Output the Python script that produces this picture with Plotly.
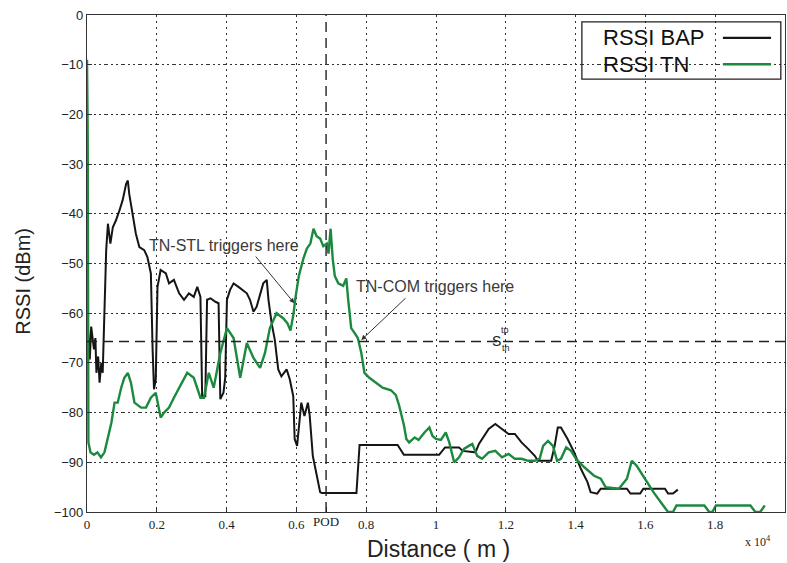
import plotly.graph_objects as go

# Distance in units of 1e4 m, RSSI in dBm
BAP_X = [0, 0.003, 0.008, 0.012, 0.02, 0.024, 0.027, 0.032, 0.036, 0.041, 0.045, 0.05, 0.055, 0.06,
         0.067, 0.074, 0.083, 0.093, 0.102, 0.112, 0.117, 0.121, 0.131, 0.14, 0.15, 0.164, 0.173,
         0.183, 0.188, 0.192, 0.197, 0.202, 0.211, 0.226, 0.235, 0.249, 0.264, 0.278, 0.292, 0.306,
         0.316, 0.325, 0.33, 0.339, 0.344, 0.354, 0.368, 0.377, 0.382, 0.391, 0.396, 0.401, 0.41,
         0.42, 0.434, 0.444, 0.458, 0.467, 0.477, 0.486, 0.496, 0.505, 0.515, 0.52, 0.529, 0.538,
         0.548, 0.557, 0.572, 0.581, 0.591, 0.595, 0.602, 0.614, 0.623, 0.633, 0.638, 0.647, 0.658,
         0.668, 0.673, 0.772, 0.781, 0.89, 0.908, 1.009, 1.026, 1.066, 1.076, 1.113, 1.123, 1.137,
         1.151, 1.17, 1.189, 1.208, 1.226, 1.245, 1.264, 1.283, 1.292, 1.33, 1.34, 1.349, 1.358,
         1.377, 1.396, 1.415, 1.434, 1.443, 1.462, 1.472, 1.547, 1.557, 1.585, 1.594, 1.656, 1.665,
         1.679, 1.693]
BAP_Y = [-64, -63.3, -69.3, -62.7, -67.3, -65, -72, -68.7, -74, -70, -72, -56.7, -47.3, -42,
         -46, -42.7, -41.3, -39.3, -37.3, -34, -33.3, -36, -40, -44, -46.7, -47.3, -48.7,
         -52, -67.3, -75.3, -73.3, -54.7, -51.3, -52, -54, -53.3, -56, -57.3, -56, -56.7,
         -54.7, -56.7, -76.7, -76.7, -57.3, -57, -57.7, -58, -77.3, -76, -73, -57.3, -55.3,
         -54, -54.7, -55.3, -56, -57.3, -59.7, -58.7, -56, -54, -53.3, -57.3, -62, -65.3,
         -71.3, -72.7, -71.3, -73.3, -76.7, -85.3, -86.7, -78, -80.7, -78, -80.5, -88.7, -92.5,
         -96, -96.2, -96.2, -86.5, -86.5, -88.5, -88.5, -87, -87, -87.7, -88, -86.3, -84.7,
         -83.3, -82.3, -83.3, -84.3, -84.3, -86, -87.3, -88.7, -89.7, -89.7, -86.7, -83, -83,
         -85.3, -88, -91.3, -94, -96, -96.3, -95.3, -95.3, -96.3, -96.3, -95.3, -95.3, -96.3,
         -96.3, -95.5]

TN_X = [0, 0.002, 0.004, 0.01, 0.02, 0.03, 0.04, 0.05, 0.06, 0.07, 0.079, 0.088, 0.098, 0.107,
        0.117, 0.126, 0.136, 0.155, 0.169, 0.183, 0.197, 0.211, 0.221, 0.235, 0.249, 0.264, 0.287,
        0.306, 0.325, 0.335, 0.349, 0.363, 0.382, 0.401, 0.42, 0.439, 0.458, 0.477, 0.496, 0.51,
        0.524, 0.543, 0.562, 0.574, 0.583, 0.592, 0.597, 0.607, 0.62, 0.63, 0.64, 0.649, 0.658,
        0.668, 0.677, 0.687, 0.692, 0.698, 0.704, 0.71, 0.72, 0.734, 0.743, 0.748, 0.757, 0.767,
        0.776, 0.786, 0.795, 0.809, 0.828, 0.847, 0.871, 0.885, 0.894, 0.908, 0.915, 0.923, 0.939,
        0.95, 0.967, 0.981, 0.99, 1.0, 1.014, 1.028, 1.038, 1.052, 1.066, 1.08, 1.094, 1.104,
        1.118, 1.132, 1.151, 1.17, 1.189, 1.208, 1.226, 1.245, 1.264, 1.283, 1.297, 1.307, 1.321,
        1.335, 1.347, 1.358, 1.373, 1.387, 1.401, 1.425, 1.453, 1.472, 1.486, 1.524, 1.547, 1.561,
        1.575, 1.599, 1.623, 1.651, 1.665, 1.679, 1.689, 1.769, 1.783, 1.792, 1.802, 1.901, 1.915,
        1.929, 1.942]
TN_Y = [-9, -24, -86, -88, -88.5, -88, -89, -88, -85, -82, -78, -78, -75, -73,
        -72, -74, -78, -79, -79, -77, -76, -81, -80, -79, -77, -75, -72,
        -73, -77, -77, -72, -75, -68, -63, -65, -73, -66, -69, -71, -68,
        -63, -60, -61, -62, -63.5, -60, -57, -52.5, -49, -47, -46, -43, -44.5,
        -45, -46.5, -46, -48, -43, -49, -52.5, -54, -54.5, -53, -57, -63, -64,
        -65, -68, -72, -73, -74, -75, -75.5, -76.5, -78.5, -82.5, -85.3, -86, -85,
        -85.5, -84, -83, -84.7, -85.3, -85.5, -84, -86, -90, -89, -87.3, -86.7, -86.3,
        -88.7, -89.3, -88, -87.7, -89, -88.3, -89.3, -89.3, -89.7, -89.7, -89.3, -86.7, -85.7,
        -86.7, -89.7, -89.3, -87, -87.7, -89.3, -91, -92.7, -93.3, -95, -95.3, -93.3, -89.7,
        -90.7, -93.3, -96, -98.7, -100, -100, -98.7, -98.7, -100, -100, -98.7, -98.7, -100,
        -100, -98.7]

X_TICKS = [0, 0.2, 0.4, 0.6, 0.8, 1, 1.2, 1.4, 1.6, 1.8, 2]
X_TICK_TEXT = ["0", "0.2", "0.4", "0.6", "0.8", "1", "1.2", "1.4", "1.6", "1.8", "2"]
Y_TICKS = [0, -10, -20, -30, -40, -50, -60, -70, -80, -90, -100]

POD_X = 0.685          # point of departure
THRESHOLD_DBM = -65.7  # S_th^tp

GREEN = "#1c8a3e"
BLACK = "#151515"
SANS = "Liberation Sans, Arial, sans-serif"
SERIF = "Liberation Serif, Times New Roman, serif"

fig = go.Figure()
fig.add_trace(go.Scatter(x=BAP_X, y=BAP_Y, mode="lines", name="RSSI BAP",
                         line=dict(color=BLACK, width=2), showlegend=False))
fig.add_trace(go.Scatter(x=TN_X, y=TN_Y, mode="lines", name="RSSI TN",
                         line=dict(color=GREEN, width=2.4), showlegend=False))
# invisible trace carrying the secondary x axis with the POD tick
fig.add_trace(go.Scatter(x=[POD_X], y=[None], xaxis="x2", mode="markers",
                         showlegend=False, hoverinfo="skip"))

fig.update_layout(
    width=787, height=563,
    margin=dict(l=87, r=2, t=15, b=51),
    paper_bgcolor="white", plot_bgcolor="white",
    xaxis=dict(range=[0, 2], tickvals=X_TICKS, ticktext=X_TICK_TEXT,
               ticks="inside", ticklen=5, tickcolor="#333",
               showline=True, mirror=True, linecolor="#333", linewidth=1.3,
               showgrid=True, gridcolor="#333", gridwidth=1, griddash="2px,4px",
               zeroline=False, tickfont=dict(family=SERIF, size=13, color="#222")),
    xaxis2=dict(range=[0, 2], overlaying="x", anchor="y", side="bottom",
                tickvals=[POD_X], ticktext=["POD"], ticks="inside", ticklen=5,
                tickcolor="#333", showgrid=False, zeroline=False, showline=False,
                tickfont=dict(family=SERIF, size=13, color="#222")),
    yaxis=dict(range=[-100, 0], tickvals=Y_TICKS,
               ticks="inside", ticklen=5, tickcolor="#333",
               showline=True, mirror=True, linecolor="#333", linewidth=1.3,
               showgrid=True, gridcolor="#333", gridwidth=1,
               griddash="4px,3px,2px,3px,2px,3px",
               zeroline=False, tickfont=dict(family=SANS, size=13, color="#222")),
)

# threshold and POD reference lines
fig.add_shape(type="line", xref="x", yref="y", x0=0, x1=2, y0=THRESHOLD_DBM, y1=THRESHOLD_DBM,
              line=dict(color="#222", width=1.4, dash="10px,6px"))
fig.add_shape(type="line", xref="x", yref="y", x0=POD_X, x1=POD_X, y0=-100, y1=0,
              line=dict(color="#222", width=1.4, dash="10px,6px"))

# legend box with labels on the left and line samples on the right
fig.add_shape(type="rect", xref="paper", yref="paper", x0=0.709, x1=0.994, y0=0.871, y1=0.986,
              line=dict(color="#222", width=1.3), fillcolor="rgba(0,0,0,0)")
fig.add_shape(type="line", xref="paper", yref="paper", x0=0.911, x1=0.980, y0=0.954, y1=0.954,
              line=dict(color=BLACK, width=2.2))
fig.add_shape(type="line", xref="paper", yref="paper", x0=0.911, x1=0.980, y0=0.901, y1=0.901,
              line=dict(color=GREEN, width=2.6))
for label, ly in [("RSSI BAP", 0.954), ("RSSI TN", 0.901)]:
    fig.add_annotation(xref="paper", yref="paper", x=0.736, y=ly, text=label, showarrow=False,
                       xanchor="left", yanchor="middle",
                       font=dict(family=SANS, size=22, color="#111"))

# trigger annotations: label text plus a separate pointer arrow
ann_font = dict(family=SANS, size=16, color="#3a3a3a")
fig.add_annotation(x=0.393, y=-46.3, text="TN-STL triggers here", showarrow=False, font=ann_font)
fig.add_annotation(x=0.594, y=-58, ax=0.48, ay=-48.3, axref="x", ayref="y", text="",
                   showarrow=True, arrowhead=2, arrowsize=1, arrowwidth=1, arrowcolor="#333")
fig.add_annotation(x=0.997, y=-54.7, text="TN-COM triggers here", showarrow=False, font=ann_font)
fig.add_annotation(x=0.786, y=-65.4, ax=0.917, ay=-56.7, axref="x", ayref="y", text="",
                   showarrow=True, arrowhead=2, arrowsize=1, arrowwidth=1, arrowcolor="#333")

# threshold label S_th^tp
fig.add_annotation(x=1.172, y=-65.6, text="S", showarrow=False,
                   font=dict(family=SANS, size=14, color="#222"))
fig.add_annotation(x=1.199, y=-63.4, text="tp", showarrow=False,
                   font=dict(family=SANS, size=9, color="#222"))
fig.add_annotation(x=1.2, y=-67.0, text="th", showarrow=False,
                   font=dict(family=SANS, size=9, color="#222"))

# axis titles and scale factor
fig.add_annotation(xref="paper", yref="paper", x=0.503, y=-0.074, text="Distance ( m )",
                   showarrow=False, yanchor="middle",
                   font=dict(family=SANS, size=23, color="#222"))
fig.add_annotation(xref="paper", yref="paper", x=-0.092, y=0.465, text="RSSI (dBm)",
                   textangle=-90, showarrow=False, xanchor="center", yanchor="middle",
                   font=dict(family=SANS, size=20, color="#222"))
fig.add_annotation(xref="paper", yref="paper", x=0.983, y=-0.078, text="x 10<sup>4</sup>",
                   showarrow=False, font=dict(family=SERIF, size=12, color="#222"))

fig.write_html("out.html")
